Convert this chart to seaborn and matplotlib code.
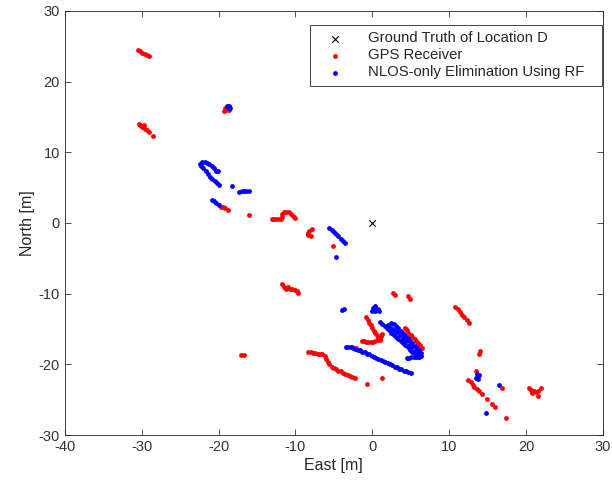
import pandas as pd
import seaborn as sns
import matplotlib.pyplot as plt

# ground truth of location D
truth_x = [0.0]
truth_y = [0.0]

# GPS receiver fixes (east, north) in metres
gps_x = [-30.5, -30.2, -29.9, -29.6, -29.3, -29.1,
         -30.4, -30.2, -29.9, -29.7, -29.6, -29.3, -29.0, -28.5,
         -19.3, -19.0, -18.7, -19.1,
         -19.7, -19.4, -19.1, -18.8,
         -16.0,
         -13.1, -12.8, -12.5, -12.2, -11.9, -11.7, -11.7, -11.5, -11.2, -10.9, -10.6, -10.3, -10.0,
         -7.9, -8.2, -8.4, -8.3, -8.0,
         -5.1,
         -11.7, -11.5, -11.2, -11.0, -10.7, -10.4, -10.1, -9.8, -9.6,
         -17.1, -16.7,
         -8.3, -8.0, -7.7, -7.4, -7.1, -6.8, -6.5, -6.2, -6.0, -5.8, -5.6, -5.3, -5.0, -4.7,
         -4.4, -4.1, -3.8, -3.5, -3.2, -2.9, -2.6, -2.3,
         -0.7, 1.3,
         2.7, 3.0, 4.6, 4.9,
         -0.8, -0.6, -0.4, -0.2, 0.0, 0.2, 0.4, 0.6, 0.8, 1.0,
         -1.4, -1.1, -0.8, -0.5, -0.2, 0.1, 0.4, 0.7, 1.0, 1.2, 1.3,
         4.2, 4.5, 4.7, 5.0, 5.2, 5.5, 5.7, 6.0, 6.2, 6.5,
         -2.6, -2.1, -1.6,
         10.8, 11.1, 11.4, 11.7, 12.0, 12.3, 12.6,
         14.0, 13.9,
         13.5, 12.5, 12.8, 13.1, 13.3, 13.6, 13.9, 14.3, 14.9, 15.6, 16.0,
         16.9, 17.4,
         20.4, 20.7, 21.0, 21.3, 21.6, 21.9, 21.6, 20.8]
gps_y = [24.5, 24.3, 24.1, 23.9, 23.7, 23.6,
         14.0, 13.8, 13.6, 13.9, 13.3, 13.1, 12.9, 12.3,
         15.8, 15.9, 16.0, 16.2,
         2.3, 2.2, 2.1, 1.9,
         1.1,
         0.6, 0.6, 0.6, 0.6, 0.6, 0.9, 1.2, 1.5, 1.6, 1.5, 1.3, 1.0, 0.7,
         -0.8, -1.1, -1.4, -1.7, -1.9,
         -3.2,
         -8.7, -9.0, -9.3, -9.1, -9.4, -9.3, -9.5, -9.6, -9.9,
         -18.7, -18.7,
         -18.3, -18.3, -18.4, -18.4, -18.5, -18.5, -18.6, -18.8, -19.2, -19.6, -20.0, -20.3, -20.5, -20.7,
         -20.9, -21.0, -21.2, -21.3, -21.5, -21.6, -21.8, -21.9,
         -22.8, -21.9,
         -9.9, -10.2, -10.3, -10.7,
         -13.3, -13.7, -14.1, -14.5, -14.9, -15.3, -15.6, -15.9, -16.2, -16.5,
         -16.7, -16.7, -16.8, -16.8, -16.8, -16.8, -16.7, -16.6, -16.3, -16.0, -15.7,
         -14.9, -15.2, -15.5, -15.8, -16.1, -16.4, -16.7, -17.0, -17.3, -17.7,
         -17.6, -17.7, -17.9,
         -11.9, -12.2, -12.6, -13.0, -13.3, -13.7, -14.1,
         -18.1, -18.6,
         -20.9, -22.2, -22.5, -22.9, -23.2, -23.5, -23.8, -24.2, -24.9, -25.6, -26.0,
         -23.3, -27.6,
         -23.3, -23.6, -23.8, -23.9, -23.7, -23.4, -24.4, -24.0]

# NLOS-only elimination using random forest
rf_x = [-18.9, -18.6, -18.5, -18.7,
        -22.3, -22.0, -21.7, -21.4, -21.1, -20.8, -20.5, -20.2, -19.9,
        -22.4, -22.1, -21.8, -21.5, -21.2, -20.9, -20.6, -20.3, -20.1,
        -18.2,
        -17.3, -17.0, -16.7, -16.4, -16.1,
        -20.9, -20.6, -20.3, -20.0,
        -5.6, -5.3, -5.0, -4.7, -4.4, -4.1, -3.8, -3.6,
        -4.7,
        -3.9, -3.7,
        0.1, 0.4, 0.7, 0.9, 0.4, 0.0,
        -3.4, -3.1, -2.8, -2.5, -2.2, -1.9, -1.6, -1.3, -1.0, -0.7, -0.4, -0.1, 0.2, 0.5, 0.8,
        1.1, 1.4, 1.7, 2.0, 2.3, 2.6, 2.9, 3.2, 3.5, 3.8, 4.1, 4.4, 4.7, 5.0,
        1.0, 1.3, 1.6, 1.9, 2.2, 2.5, 2.8, 3.1, 3.4, 3.7, 4.0, 4.3, 4.6, 4.9, 5.2, 5.5, 5.8, 6.1,
        2.5, 2.8, 3.1, 3.4, 3.7, 4.0, 4.3, 4.6, 4.9, 5.2, 5.5, 5.8, 6.1, 6.4,
        2.0, 2.4, 2.8, 3.2, 3.6, 4.0, 4.4, 4.8, 5.2, 5.6, 6.0,
        4.5, 4.8, 5.1, 5.4, 5.7, 6.0, 6.3,
        13.6, 13.8, 13.5, 13.7, 13.9,
        16.5,
        14.8]
rf_y = [16.6, 16.5, 16.2, 16.3,
        8.1, 7.7, 7.3, 6.9, 6.5, 6.2, 5.9, 5.6, 5.4,
        8.4, 8.6, 8.6, 8.5, 8.3, 8.0, 7.7, 7.4, 7.3,
        5.2,
        4.4, 4.5, 4.5, 4.5, 4.5,
        3.3, 3.1, 2.8, 2.5,
        -0.7, -1.0, -1.3, -1.6, -1.9, -2.3, -2.6, -2.8,
        -4.8,
        -12.3, -12.1,
        -12.0, -11.7, -12.2, -12.5, -12.5, -12.4,
        -17.5, -17.6, -17.6, -17.7, -17.8, -17.9, -18.0, -18.2, -18.3, -18.5, -18.6, -18.8, -18.9, -19.1, -19.2,
        -19.4, -19.5, -19.7, -19.8, -20.0, -20.1, -20.3, -20.4, -20.6, -20.7, -20.9, -21.0, -21.1, -21.2,
        -14.0, -14.3, -14.6, -14.9, -15.2, -15.5, -15.8, -16.1, -16.4, -16.7, -17.0, -17.3, -17.6, -17.9, -18.2, -18.5, -18.8, -19.0,
        -14.1, -14.3, -14.6, -14.9, -15.3, -15.6, -16.0, -16.3, -16.7, -17.0, -17.4, -17.7, -18.0, -18.4,
        -14.5, -14.8, -15.2, -15.4, -15.9, -16.3, -16.7, -17.2, -17.6, -18.1, -18.4,
        -19.1, -19.1, -19.0, -19.0, -19.0, -18.9, -18.8,
        -21.4, -21.7, -21.9, -22.1, -21.5,
        -22.9,
        -26.9]

gps = pd.DataFrame({'East': gps_x, 'North': gps_y})
rf = pd.DataFrame({'East': rf_x, 'North': rf_y})
truth = pd.DataFrame({'East': truth_x, 'North': truth_y})

sns.set_style('ticks')
plt.rcParams['font.family'] = ['Liberation Sans', 'DejaVu Sans']
plt.rcParams['axes.unicode_minus'] = False

fig = plt.figure(figsize=(6.12, 4.9), dpi=100)
ax = fig.add_axes([0.106, 0.112, 0.879, 0.866])

sns.scatterplot(data=truth, x='East', y='North', marker='x', color='black', s=22,
                linewidth=0.8, ax=ax, label='Ground Truth of Location D', zorder=3)
sns.scatterplot(data=gps, x='East', y='North', color='#ff0000', s=12, linewidth=0,
                ax=ax, label='GPS Receiver')
sns.scatterplot(data=rf, x='East', y='North', color='#0000ff', s=12, linewidth=0,
                ax=ax, label='NLOS-only Elimination Using RF')

ax.set_xlim(-40, 30)
ax.set_ylim(-30, 30)
ax.set_xticks(range(-40, 31, 10))
ax.set_yticks(range(-30, 31, 10))
ax.set_xlabel('East [m]', fontsize=11.5, color='#262626', labelpad=3)
ax.set_ylabel('North [m]', fontsize=11.5, color='#262626', labelpad=3)
ax.tick_params(direction='in', top=True, right=True, length=4, width=0.6,
               labelsize=10.5, colors='#333333')
for sp in ax.spines.values():
    sp.set_visible(True)
    sp.set_color('#262626')
    sp.set_linewidth(0.6)

leg = ax.legend(loc='upper left', bbox_to_anchor=(0.455, 0.5, 0.543, 0.467), mode='expand',
                borderaxespad=0, fontsize=10.7, fancybox=False, framealpha=1,
                edgecolor='#262626', handlelength=2.5, handletextpad=1.0,
                borderpad=0.45, labelspacing=0.2)
leg.get_frame().set_linewidth(0.6)
for t in leg.get_texts():
    t.set_color('#262626')

plt.savefig('out.png', dpi=100)
plt.close()
